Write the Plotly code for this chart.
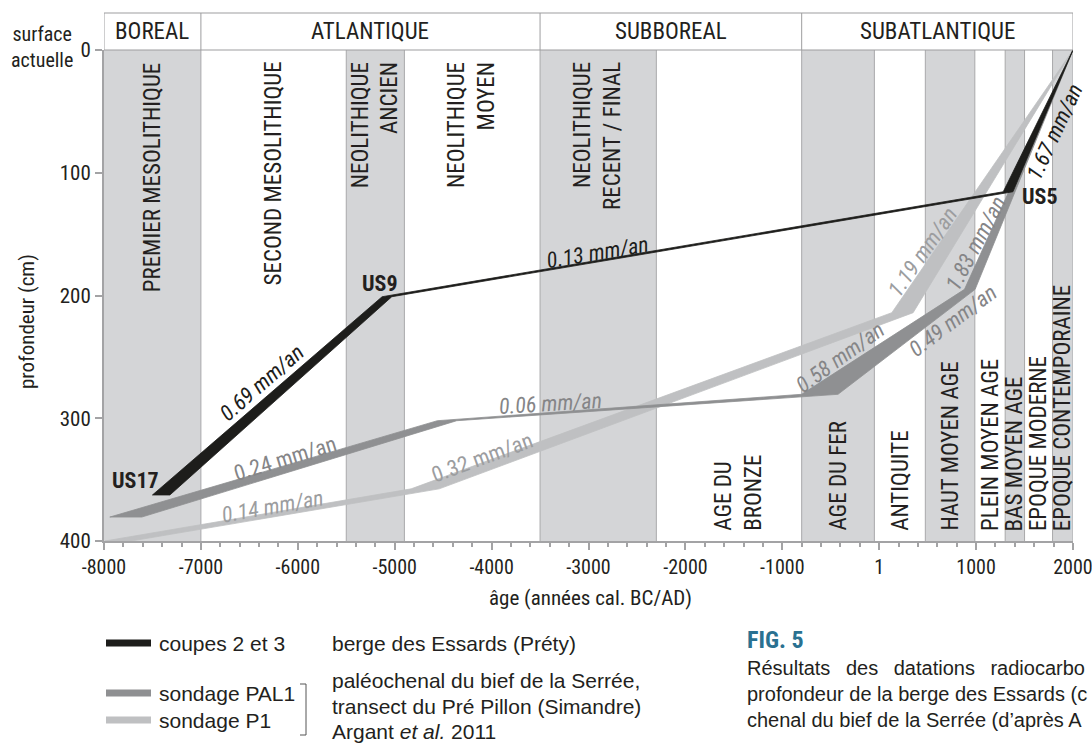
import plotly.graph_objects as go

# ---------------- data ----------------
x_tickvals = [-8000, -7000, -6000, -5000, -4000, -3000, -2000, -1000, 0, 1000, 2000]
x_ticktext = ["-8000", "-7000", "-6000", "-5000", "-4000", "-3000", "-2000", "-1000", "1", "1000", "2000"]
y_tickvals = [0, 100, 200, 300, 400]

climate_names = ["BOREAL", "ATLANTIQUE", "SUBBOREAL", "SUBATLANTIQUE"]
climate_start = [-8000, -7000, -3500, -800]
climate_end = [-7000, -3500, -800, 2000]

period_names = ["PREMIER MESOLITHIQUE", "SECOND MESOLITHIQUE", "NEOLITHIQUE<br>ANCIEN",
                "NEOLITHIQUE<br>MOYEN", "NEOLITHIQUE<br>RECENT / FINAL", "AGE DU<br>BRONZE",
                "AGE DU FER", "ANTIQUITE", "HAUT MOYEN AGE", "PLEIN MOYEN AGE",
                "BAS MOYEN AGE", "EPOQUE MODERNE", "EPOQUE CONTEMPORAINE"]
period_start = [-8000, -7000, -5500, -4900, -3500, -2300, -800, -50, 476, 987, 1300, 1500, 1789]
period_end = [-7000, -5500, -4900, -3500, -2300, -800, -50, 476, 987, 1300, 1500, 1789, 2000]
period_shaded = [True, False, True, False, True, False, True, False, True, False, True, False, True]
period_label_top = [True, True, True, True, True, False, False, False, False, False, False, False, False]
period_label_shift = [0, 0, 0, 0, 0, 90, 0, 0, 0, 0, 0, 0, 0]

# age-depth bands : depth (cm), youngest / oldest bound of the age range
coupes_depth = [362.5, 201, 115.5, 0]
coupes_age_min = [-7500, -5130, 1280, 2000]
coupes_age_max = [-7320, -5030, 1380, 2000]

pal1_depth = [380.5, 302, 280.5, 195, 0]
pal1_age_min = [-7940, -4560, -800, 880, 2000]
pal1_age_max = [-7610, -4360, -425, 990, 2000]

p1_depth = [400, 357.5, 214, 0]
p1_age_min = [-7990, -4830, 130, 2000]
p1_age_max = [-7720, -4540, 350, 2000]

# rate labels
rate_text = ["0.69 mm/an", "0.13 mm/an", "1.67 mm/an", "0.24 mm/an", "0.06 mm/an",
             "0.14 mm/an", "0.32 mm/an", "0.58 mm/an", "0.49 mm/an", "1.83 mm/an", "1.19 mm/an"]
rate_age = [-6370, -2912, 1804, -6132, -3397, -6266, -4099, -404, 761, 999, 442]
rate_depth = [270.5, 164.6, 66.8, 332.4, 287.6, 371.5, 331.6, 250.9, 220, 158, 164.6]
rate_angle = [-41, -9.5, -65, -17, -3.5, -10, -20, -36, -37, -62, -55]
rate_group = ["coupes", "coupes", "coupes", "pal1", "pal1", "p1", "p1", "pal1", "pal1", "pal1", "p1"]
rate_italic = [True, True, True, False, True, True, False, True, True, True, True]

us_text = ["US17", "US9", "US5"]
us_age = [-7680, -5152, 1659]
us_depth = [351, 190.6, 119]

# ---------------- style ----------------
FONT_N = "Liberation Sans Narrow, Arial Narrow, Roboto Condensed, Liberation Sans, Arial, sans-serif"
FONT_R = "Liberation Sans, Arial, Helvetica, sans-serif"
TXT = "#231f20"
COL = {"coupes": "#1d1d1b", "pal1": "#8f9092", "p1": "#bfc0c2"}
LBL = {"coupes": "#1d1d1b", "pal1": "#858587", "p1": "#9c9d9f"}
BAND = "#d4d5d7"
EDGE = "#a9a9ab"
AX = "#a3a3a5"

W, H = 1092, 745
ML, MR, MT, MB = 104, 19, 50, 204
PW, PH = W - ML - MR, H - MT - MB


def px(xp):  # page pixel -> paper x
    return (xp - ML) / PW


def py(yp):  # page pixel -> paper y
    return (H - MB - yp) / PH


fig = go.Figure()


def add_band(depth, amin, amax, color, name):
    xs = list(amin) + list(amax)[::-1] + [amin[0]]
    ys = list(depth) + list(depth)[::-1] + [depth[0]]
    fig.add_trace(go.Scatter(x=xs, y=ys, mode="lines", fill="toself", fillcolor=color,
                             line=dict(color=color, width=0.8), name=name,
                             showlegend=False, hoverinfo="skip"))


add_band(p1_depth, p1_age_min, p1_age_max, COL["p1"], "sondage P1")
add_band(pal1_depth, pal1_age_min, pal1_age_max, COL["pal1"], "sondage PAL1")
add_band(coupes_depth, coupes_age_min, coupes_age_max, COL["coupes"], "coupes 2 et 3")

shapes = []
annotations = []

# period bands
for s, e, sh in zip(period_start, period_end, period_shaded):
    if sh:
        shapes.append(dict(type="rect", xref="x", yref="y", x0=s, x1=e, y0=0, y1=400,
                           fillcolor=BAND, line=dict(width=0), layer="below"))
for b in period_start[1:] + [2000]:
    shapes.append(dict(type="line", xref="x", yref="y", x0=b, x1=b, y0=0, y1=400,
                       line=dict(color=EDGE, width=1), layer="below"))

for name, s, e, top, sh in zip(period_names, period_start, period_end, period_label_top,
                               period_label_shift):
    if top:
        annotations.append(dict(x=(s + e) / 2 + sh, y=8, xref="x", yref="y", text=name,
                                textangle=-90, xanchor="center", yanchor="top", align="right",
                                showarrow=False, font=dict(family=FONT_N, size=23, color=TXT)))
    else:
        annotations.append(dict(x=(s + e) / 2 + sh, y=393.5, xref="x", yref="y", text=name,
                                textangle=-90, xanchor="center", yanchor="bottom", align="left",
                                showarrow=False, font=dict(family=FONT_N, size=23, color=TXT)))

# climate header
hy0, hy1 = py(50), py(13)
shapes.append(dict(type="rect", xref="x", yref="paper", x0=-8000, x1=2000, y0=hy0, y1=hy1,
                   line=dict(color="#9d9d9f", width=1), fillcolor="white"))
for b in climate_start[1:]:
    shapes.append(dict(type="line", xref="x", yref="paper", x0=b, x1=b, y0=hy0, y1=hy1,
                       line=dict(color="#9d9d9f", width=1)))
for name, s, e in zip(climate_names, climate_start, climate_end):
    annotations.append(dict(x=(s + e) / 2, y=(hy0 + hy1) / 2, xref="x", yref="paper", text=name,
                            showarrow=False, xanchor="center", yanchor="middle",
                            font=dict(family=FONT_N, size=23, color=TXT)))

# rate labels
for t, a, d, ang, g, it in zip(rate_text, rate_age, rate_depth, rate_angle, rate_group, rate_italic):
    annotations.append(dict(x=a, y=d, xref="x", yref="y", text=("<i>%s</i>" % t) if it else t,
                            textangle=ang, showarrow=False, xanchor="center", yanchor="middle",
                            font=dict(family=FONT_N, size=22, color=LBL[g])))
for t, a, d in zip(us_text, us_age, us_depth):
    annotations.append(dict(x=a, y=d, xref="x", yref="y", text="<b>%s</b>" % t, showarrow=False,
                            xanchor="center", yanchor="middle",
                            font=dict(family=FONT_N, size=22, color=TXT)))

# axis titles & surface label
annotations.append(dict(x=px(27), y=py(322), xref="paper", yref="paper", text="profondeur (cm)",
                        textangle=-90, showarrow=False, xanchor="center", yanchor="middle",
                        font=dict(family=FONT_N, size=21, color=TXT)))
annotations.append(dict(x=px(590), y=py(598), xref="paper", yref="paper",
                        text="âge (années cal. BC/AD)", showarrow=False,
                        xanchor="center", yanchor="middle",
                        font=dict(family=FONT_N, size=21, color=TXT)))
annotations.append(dict(x=px(42), y=py(47), xref="paper", yref="paper",
                        text="surface<br>actuelle", showarrow=False, align="center",
                        xanchor="center", yanchor="middle",
                        font=dict(family=FONT_N, size=20, color=TXT)))

# legend (manual)
leg_rows = [("coupes 2 et 3", COL["coupes"], 643), ("sondage PAL1", COL["pal1"], 693),
            ("sondage P1", COL["p1"], 720)]
for label, c, yy in leg_rows:
    shapes.append(dict(type="rect", xref="paper", yref="paper", x0=px(106), x1=px(151),
                       y0=py(yy + 3.5), y1=py(yy - 3.5), fillcolor=c, line=dict(width=0)))
    annotations.append(dict(x=px(157), y=py(yy), xref="paper", yref="paper", text=label,
                            showarrow=False, xanchor="left", yanchor="middle",
                            font=dict(family=FONT_R, size=21, color=TXT)))
annotations.append(dict(x=px(330), y=py(643), xref="paper", yref="paper",
                        text="berge des Essards (Préty)", showarrow=False,
                        xanchor="left", yanchor="middle", font=dict(family=FONT_R, size=21, color=TXT)))
for txt, yy in [("paléochenal du bief de la Serrée,", 680),
                ("transect du Pré Pillon (Simandre)", 706),
                ("Argant <i>et al.</i> 2011", 731)]:
    annotations.append(dict(x=px(330), y=py(yy), xref="paper", yref="paper", text=txt,
                            showarrow=False, xanchor="left", yanchor="middle",
                            font=dict(family=FONT_R, size=21, color=TXT)))
# bracket
for (x0, y0, x1, y1) in [(300, 684, 306, 684), (306, 684, 306, 735), (300, 735, 306, 735)]:
    shapes.append(dict(type="line", xref="paper", yref="paper", x0=px(x0), x1=px(x1),
                       y0=py(y0), y1=py(y1), line=dict(color="#555555", width=1)))

# caption
annotations.append(dict(x=px(745), y=py(640), xref="paper", yref="paper", text="<b>FIG. 5</b>",
                        showarrow=False, xanchor="left", yanchor="middle",
                        font=dict(family=FONT_N, size=24, color="#2a7191")))
for txt, yy in [("Résultats \u2002des \u2002datations \u2002radiocarbo", 668),
                ("profondeur de la berge des Essards (c", 694),
                ("chenal du bief de la Serrée (d’après A", 720)]:
    annotations.append(dict(x=px(745), y=py(yy), xref="paper", yref="paper", text=txt,
                            showarrow=False, xanchor="left", yanchor="middle",
                            font=dict(family=FONT_R, size=20, color=TXT)))

fig.update_layout(
    width=W, height=H,
    margin=dict(l=ML, r=MR, t=MT, b=MB, autoexpand=False),
    paper_bgcolor="white", plot_bgcolor="white",
    shapes=shapes, annotations=annotations,
    showlegend=False,
    xaxis=dict(range=[-8000, 2000], tickmode="array", tickvals=x_tickvals, ticktext=x_ticktext,
               showgrid=False, zeroline=False, showline=True, linecolor=AX, linewidth=2,
               ticks="outside", ticklen=7, tickwidth=2, tickcolor=AX,
               ticklabeloverflow="allow", automargin=False,
               minor=dict(tickmode="linear", tick0=-8000, dtick=200, ticks="outside",
                          ticklen=4, tickwidth=1.5, tickcolor=AX, showgrid=False),
               tickfont=dict(family=FONT_N, size=20, color=TXT)),
    yaxis=dict(range=[400, 0], tickmode="array", tickvals=y_tickvals, automargin=False,
               showgrid=False, zeroline=False, showline=True, linecolor=AX, linewidth=2,
               ticks="outside", ticklen=7, tickwidth=2, tickcolor=AX,
               tickfont=dict(family=FONT_N, size=21, color=TXT)),
)

# remove the browser's default 8px body margin so the figure fills the 1092x745 window
fig.write_html("out.html", config={"displayModeBar": False},
               post_script="document.body.style.margin='0px';document.body.style.overflow='hidden';")
